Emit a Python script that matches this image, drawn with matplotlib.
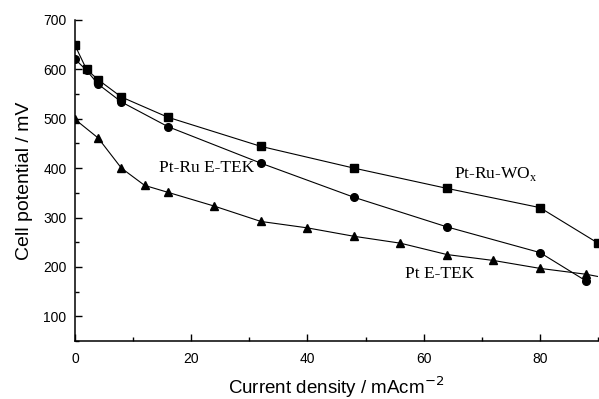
import matplotlib.pyplot as plt
from matplotlib.ticker import MultipleLocator

# current density (mA cm^-2) and cell potential (mV)
wox_x = [0, 2, 4, 8, 16, 32, 48, 64, 80, 90]
wox_y = [649, 600, 579, 544, 503, 444, 400, 359, 320, 248]

ptru_x = [0, 2, 4, 8, 16, 32, 48, 64, 80, 88]
ptru_y = [621, 598, 570, 534, 484, 410, 341, 281, 229, 171]

pt_x = [0, 4, 8, 12, 16, 24, 32, 40, 48, 56, 64, 72, 80, 88, 92]
pt_y = [499, 461, 400, 365, 351, 323, 292, 279, 262, 248, 225, 213, 197, 185, 176]

plt.rcParams["font.family"] = ["Liberation Sans", "DejaVu Sans"]

fig = plt.figure(figsize=(5.99, 3.99), dpi=100)
ax = fig.add_axes([0.125, 0.1454, 0.8735, 0.8046])

kw = dict(color="black", linewidth=0.8, markersize=5.5, clip_on=True)
ax.plot(wox_x, wox_y, marker="s", **kw)
ax.plot(ptru_x, ptru_y, marker="o", **kw)
ax.plot(pt_x, pt_y, marker="^", **kw)

ax.set_xlim(0, 90)
ax.set_ylim(50, 700)
ax.xaxis.set_major_locator(MultipleLocator(20))
ax.xaxis.set_minor_locator(MultipleLocator(10))
ax.yaxis.set_major_locator(MultipleLocator(100))
ax.yaxis.set_minor_locator(MultipleLocator(50))
ax.set_yticks([100, 200, 300, 400, 500, 600, 700])
ax.tick_params(which="both", direction="in", labelsize=10, width=1)
ax.tick_params(which="major", length=5)
ax.tick_params(which="minor", length=3)
ax.tick_params(axis="y", pad=6)
ax.tick_params(axis="x", pad=8)
for s in ["top", "right"]:
    ax.spines[s].set_visible(False)
for s in ["left", "bottom"]:
    ax.spines[s].set_linewidth(1.1)

serif = dict(family=["Liberation Serif", "DejaVu Serif"], fontsize=12.5)
ax.text(14.5, 400, "Pt-Ru E-TEK", va="center", **serif)
ax.text(65.2, 388, "Pt-Ru-WO$_\\mathregular{x}$", va="center", **serif)
ax.text(56.8, 185, "Pt E-TEK", va="center", **serif)

ax.set_xlabel("Current density / mAcm$^{-2}$", fontsize=13.5, labelpad=6)
ax.set_ylabel("Cell potential / mV", fontsize=14, labelpad=7)

fig.savefig("out.png", dpi=100)
